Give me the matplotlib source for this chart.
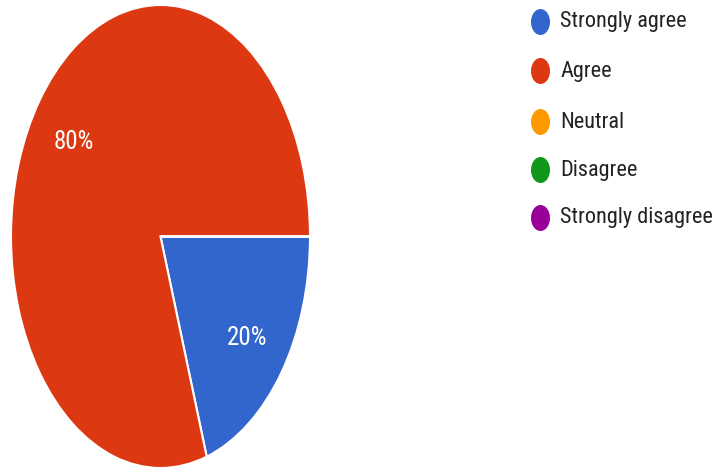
import matplotlib
matplotlib.use("Agg")
import matplotlib.pyplot as plt
from matplotlib.patches import Ellipse

categories = ["Strongly agree", "Agree", "Neutral", "Disagree", "Strongly disagree"]
values = [20, 80, 0, 0, 0]
colors = ["#3366CC", "#DC3912", "#FF9900", "#109618", "#990099"]

W, H = 717, 469
fig = plt.figure(figsize=(W / 100, H / 100), dpi=100)
fig.patch.set_facecolor("white")

FONT = ["Roboto Condensed", "Roboto", "DejaVu Sans"]

ax = fig.add_axes([11 / W, 1 / H, 299 / W, 463 / H])
wedges, texts, autotexts = ax.pie(
    values, colors=colors, startangle=0, counterclock=False,
    autopct=lambda p: f"{p:.0f}%" if p > 0 else "",
    pctdistance=0.72, radius=1,
    wedgeprops=dict(edgecolor="white", linewidth=1.5),
    textprops=dict(color="white", fontsize=18, family=FONT),
)
for t in autotexts:
    x, y = t.get_position()
    t.set_position((x, y - 0.015))
ax.set_aspect("auto")
ax.set_xlim(-1, 1)
ax.set_ylim(-1, 1)

ys = [22, 71, 122, 170, 218]
for cat, col, y in zip(categories, colors, ys):
    e = Ellipse((540.5 / W, 1 - y / H), 19 / W, 26 / H, transform=fig.transFigure,
                facecolor=col, edgecolor="none")
    fig.add_artist(e)
    fig.text(560 / W, 1 - y / H, cat, fontsize=16, family=FONT,
             color="#222222", va="center", ha="left")

fig.savefig("out.png", dpi=100)
